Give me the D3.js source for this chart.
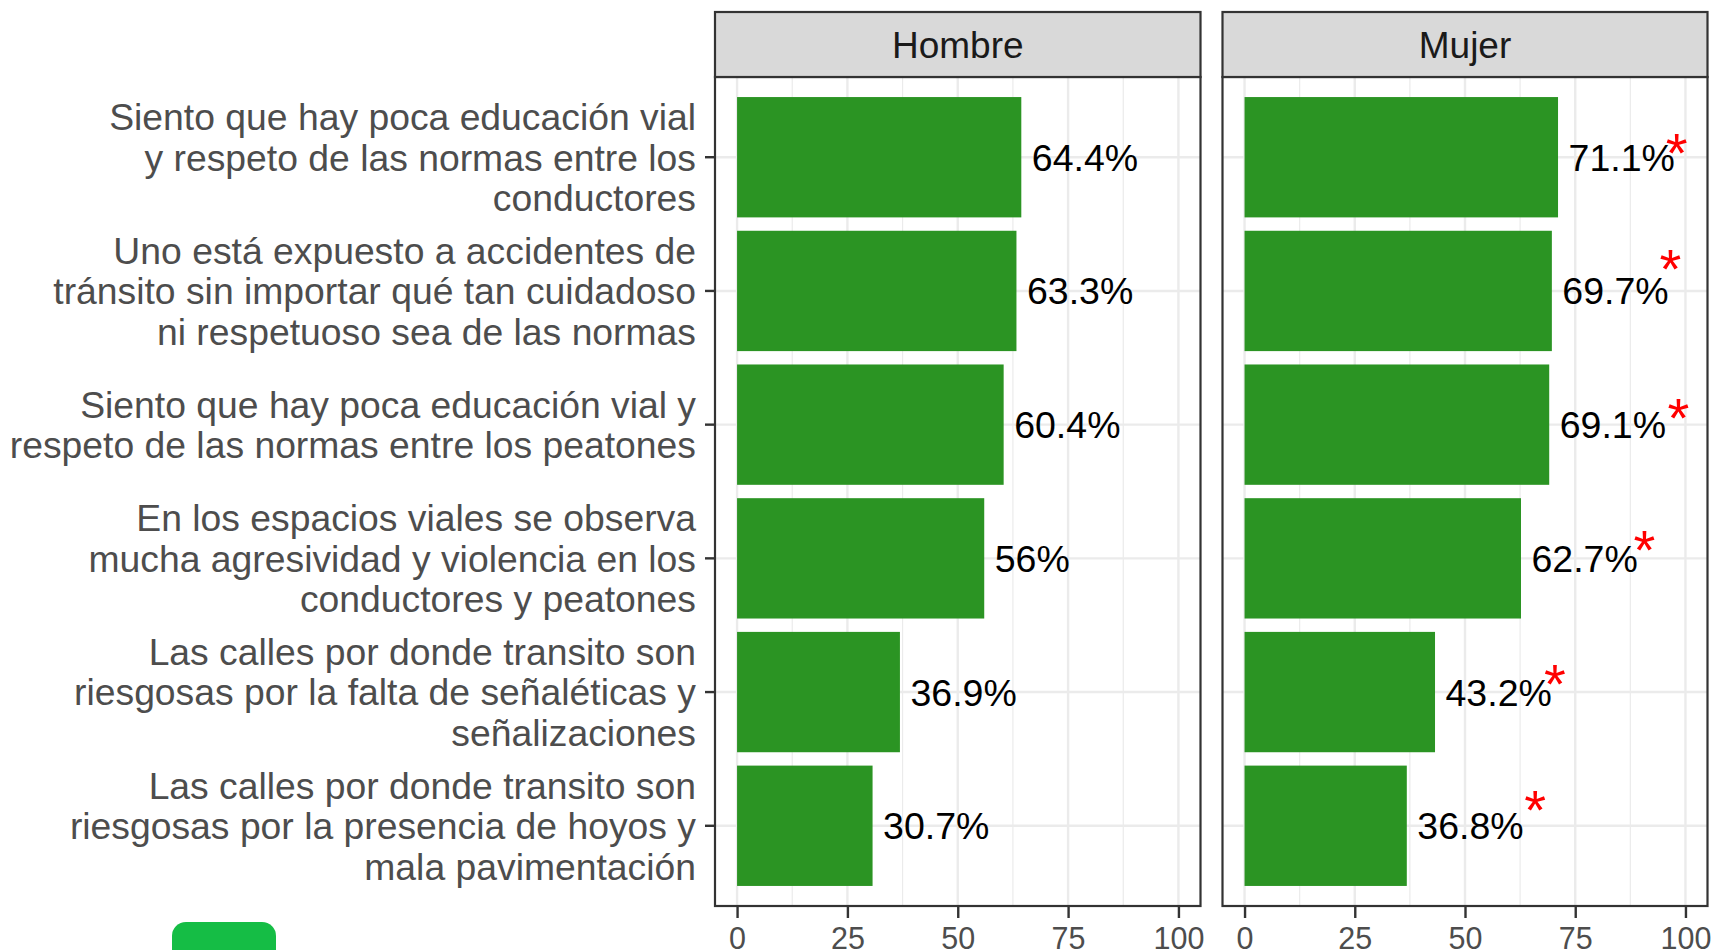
<!DOCTYPE html>
<html>
<head>
<meta charset="utf-8">
<script src="https://cdn.jsdelivr.net/npm/d3@7"></script>
<style>
  html, body { margin: 0; padding: 0; background: #ffffff; }
  svg { display: block; font-family: "Liberation Sans", Arial, Helvetica, sans-serif; }
</style>
</head>
<body>
<svg id="chart" width="1715" height="950"></svg>
<script>
// ---------- data ----------
const categories = [
  "Siento que hay poca educación vial\ny respeto de las normas entre los\nconductores",
  "Uno está expuesto a accidentes de\ntránsito sin importar qué tan cuidadoso\nni respetuoso sea de las normas",
  "Siento que hay poca educación vial y\nrespeto de las normas entre los peatones",
  "En los espacios viales se observa\nmucha agresividad y violencia en los\nconductores y peatones",
  "Las calles por donde transito son\nriesgosas por la falta de señaléticas y\nseñalizaciones",
  "Las calles por donde transito son\nriesgosas por la presencia de hoyos y\nmala pavimentación"
];
const panels = ["Hombre", "Mujer"];
const hombreValues = [64.4, 63.3, 60.4, 56, 36.9, 30.7];
const mujerValues = [71.1, 69.7, 69.1, 62.7, 43.2, 36.8];
// significance marks (Mujer panel): x in data units, raise in category units
const mujerSignif = [true, true, true, true, true, true];
const starX = [98.0, 96.6, 98.4, 90.7, 70.4, 65.9];
const starRaise = [0.13, 0.26, 0.15, 0.16, 0.16, 0.22];
const xTicks = [0, 25, 50, 75, 100];
const xMinor = [12.5, 37.5, 62.5, 87.5];
const xDomain = [-5, 105];

// ---------- layout ----------
const svg = d3.select("#chart");
const panelTop = 77, panelBottom = 906, stripTop = 12;
const panelX = { Hombre: [715, 1200.5], Mujer: [1222.5, 1707.5] };
const seriesByPanel = { Hombre: hombreValues, Mujer: mujerValues };

const y = d3.scaleBand()
  .domain(d3.range(categories.length))
  .range([panelTop, panelBottom])
  .paddingInner(0.1)
  .paddingOuter(0.15);
const yc = i => y(i) + y.bandwidth() / 2;

const barColor = "#2b9423";
const gridColor = "#ebebeb";
const borderColor = "#333333";

panels.forEach(p => {
  const [x0, x1] = panelX[p];
  const x = d3.scaleLinear().domain(xDomain).range([x0, x1]);
  const vals = seriesByPanel[p];
  const g = svg.append("g");

  // background
  g.append("rect").attr("x", x0).attr("y", panelTop).attr("width", x1 - x0)
    .attr("height", panelBottom - panelTop).attr("fill", "#ffffff");

  // minor grid
  g.selectAll(".minor").data(xMinor).join("line")
    .attr("x1", d => x(d)).attr("x2", d => x(d))
    .attr("y1", panelTop).attr("y2", panelBottom)
    .attr("stroke", gridColor).attr("stroke-width", 1.2);
  // major grid
  g.selectAll(".major").data(xTicks).join("line")
    .attr("x1", d => x(d)).attr("x2", d => x(d))
    .attr("y1", panelTop).attr("y2", panelBottom)
    .attr("stroke", gridColor).attr("stroke-width", 2.4);
  g.selectAll(".hmajor").data(d3.range(categories.length)).join("line")
    .attr("x1", x0).attr("x2", x1)
    .attr("y1", d => yc(d)).attr("y2", d => yc(d))
    .attr("stroke", gridColor).attr("stroke-width", 2.4);

  // bars
  g.selectAll(".bar").data(vals).join("rect")
    .attr("x", x(0))
    .attr("y", (d, i) => y(i))
    .attr("width", d => x(d) - x(0))
    .attr("height", y.bandwidth())
    .attr("fill", barColor);

  // value labels
  g.selectAll(".val").data(vals).join("text")
    .attr("x", d => x(d) + 10.5)
    .attr("y", (d, i) => yc(i))
    .attr("dy", "0.36em")
    .attr("font-size", 37.5)
    .attr("fill", "#000000")
    .text(d => d + "%");

  // significance stars
  if (p === "Mujer") {
    const fs = 56;
    g.selectAll(".star").data(vals.map((v, i) => i).filter(i => mujerSignif[i])).join("text")
      .attr("x", i => x(starX[i]))
      .attr("y", i => yc(i) - starRaise[i] * y.step() + 0.575 * fs)
      .attr("text-anchor", "middle")
      .attr("font-size", fs)
      .attr("fill", "#ff0000")
      .text("*");
  }

  // panel border
  g.append("rect").attr("x", x0).attr("y", panelTop).attr("width", x1 - x0)
    .attr("height", panelBottom - panelTop)
    .attr("fill", "none").attr("stroke", borderColor).attr("stroke-width", 2.2);

  // strip
  g.append("rect").attr("x", x0).attr("y", stripTop).attr("width", x1 - x0)
    .attr("height", panelTop - stripTop)
    .attr("fill", "#d9d9d9").attr("stroke", borderColor).attr("stroke-width", 2.2);
  g.append("text").attr("x", (x0 + x1) / 2).attr("y", (stripTop + panelTop) / 2)
    .attr("dy", "0.36em").attr("text-anchor", "middle")
    .attr("font-size", 37).attr("fill", "#1a1a1a").text(p);

  // x axis
  const ax = svg.append("g").attr("transform", `translate(0,${panelBottom})`)
    .call(d3.axisBottom(x).tickValues(xTicks).tickSize(12).tickPadding(9).tickFormat(d3.format("d")));
  ax.select(".domain").remove();
  ax.selectAll(".tick line").attr("stroke", borderColor).attr("stroke-width", 2.4);
  ax.selectAll(".tick text").attr("font-size", 30.5).attr("fill", "#4d4d4d")
    .attr("font-family", "'Liberation Sans', Arial, sans-serif");
});

// y axis (left of first panel)
const yAxisX = panelX.Hombre[0];
const yg = svg.append("g");
yg.selectAll(".ytick").data(d3.range(categories.length)).join("line")
  .attr("x1", yAxisX - 10).attr("x2", yAxisX)
  .attr("y1", d => yc(d)).attr("y2", d => yc(d))
  .attr("stroke", borderColor).attr("stroke-width", 2.4);
const lineH = 40.5;
categories.forEach((c, i) => {
  const lines = c.split("\n");
  const t = yg.append("text")
    .attr("text-anchor", "end")
    .attr("font-size", 37.3)
    .attr("fill", "#4d4d4d");
  lines.forEach((ln, k) => {
    t.append("tspan")
      .attr("x", yAxisX - 19)
      .attr("y", yc(i) + (k - (lines.length - 1) / 2) * lineH)
      .attr("dy", "0.36em")
      .text(ln);
  });
});

// green badge at lower left (present in the reference picture)
svg.append("rect").attr("x", 172).attr("y", 922).attr("width", 104).attr("height", 50)
  .attr("rx", 14).attr("fill", "#15bd45");
</script>
</body>
</html>
